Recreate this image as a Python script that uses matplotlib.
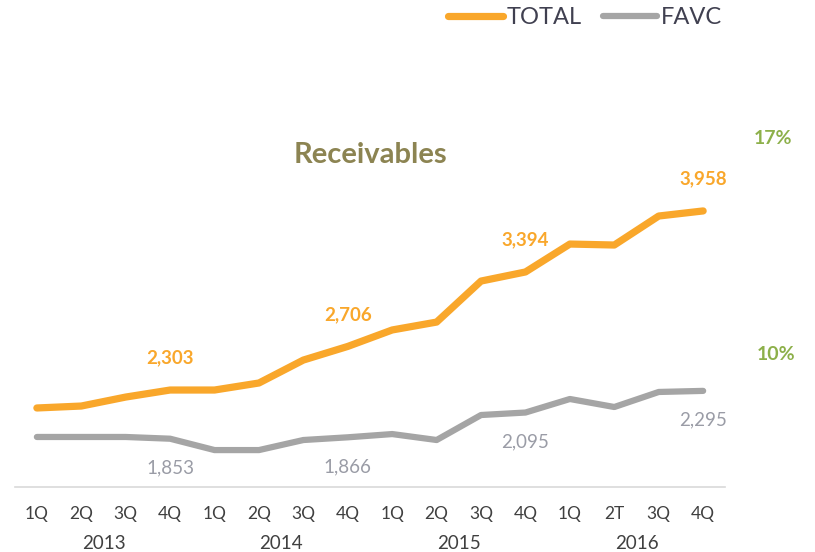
import matplotlib.pyplot as plt
import numpy as np

plt.rcParams['font.family'] = ['Lato', 'DejaVu Sans']

quarters = ["1Q", "2Q", "3Q", "4Q", "1Q", "2Q", "3Q", "4Q",
            "1Q", "2Q", "3Q", "4Q", "1Q", "2T", "3Q", "4Q"]
years = ["2013", "2014", "2015", "2016"]
total = [2137, 2155, 2238, 2303, 2303, 2368, 2580, 2706,
         2858, 2931, 3310, 3394, 3652, 3643, 3911, 3958]
favc = [1869, 1869, 1869, 1853, 1748, 1748, 1841, 1866,
        1896, 1841, 2072, 2095, 2220, 2146, 2285, 2295]
label_idx = [3, 7, 11, 15]

orange = "#F9A72B"
grey = "#A5A5A5"

fig = plt.figure(figsize=(8.15, 5.52), dpi=100)
ax = fig.add_axes([0.018, 0.1178, 0.872, 0.701])
x = np.arange(len(quarters))

ax.plot(x, total, color=orange, lw=5.2, solid_capstyle='round', solid_joinstyle='round')
ax.plot(x, favc, color=grey, lw=4.5, solid_capstyle='round', solid_joinstyle='round')

for i in label_idx:
    ax.annotate(f"{total[i]:,}", (x[i], total[i]), xytext=(0, 23), textcoords='offset points',
                ha='center', va='center', color=orange, fontsize=13.5, fontweight='bold')
    ax.annotate(f"{favc[i]:,}", (x[i], favc[i]), xytext=(0, -21), textcoords='offset points',
                ha='center', va='center', color="#9A9CA6", fontsize=13.5)

ax.set_xlim(-0.5, len(quarters) - 0.5)
ax.set_ylim(1407, 4983)
for s in ['top', 'right', 'left']:
    ax.spines[s].set_visible(False)
ax.spines['bottom'].set_color("#D9D9D9")
ax.spines['bottom'].set_linewidth(1.2)
ax.set_yticks([])
ax.set_xticks(x)
ax.set_xticklabels(quarters, fontsize=12.5, color="#404040")
ax.tick_params(axis='x', length=0, pad=14)

for k, yr in enumerate(years):
    ax.text(4 * k + 1.5, -0.145, yr, transform=ax.get_xaxis_transform(),
            ha='center', va='center', fontsize=13.5, color="#404040")

fig.text(370 / 815, 1 - 155 / 552, "Receivables", ha='center', va='center',
         fontsize=21, fontweight='bold', color="#8C8452")
fig.text(773 / 815, 1 - 138 / 552, "17%", ha='center', va='center',
         fontsize=14, fontweight='bold', color="#8DB04A")
fig.text(776 / 815, 1 - 354 / 552, "10%", ha='center', va='center',
         fontsize=14, fontweight='bold', color="#8DB04A")

ax.legend(["TOTAL", "FAVC"], loc='upper right', bbox_to_anchor=(743 / 815, 1.025),
          bbox_transform=fig.transFigure, ncol=2, frameon=False, fontsize=17,
          handlelength=2.3, handletextpad=0.15, columnspacing=0.9, labelcolor="#404050")

fig.savefig("out.png", dpi=100)
